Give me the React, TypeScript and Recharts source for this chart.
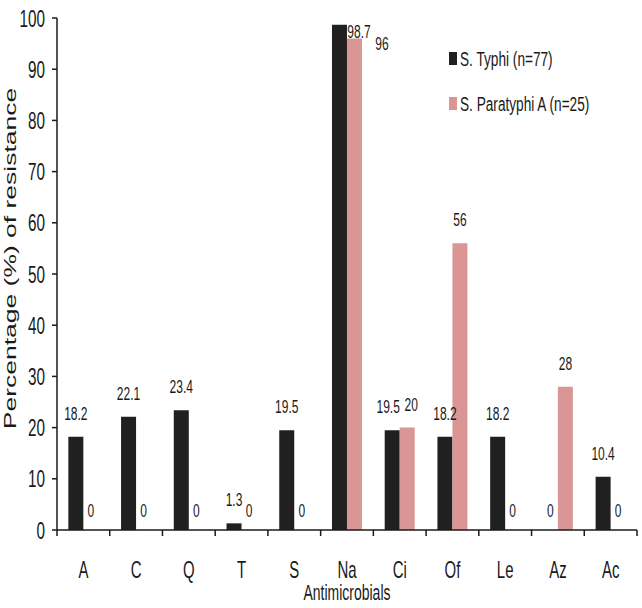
import React from 'react';
import { BarChart, Bar, XAxis, YAxis, LabelList, Legend } from 'recharts';

const categories = ['A', 'C', 'Q', 'T', 'S', 'Na', 'Ci', 'Of', 'Le', 'Az', 'Ac'];
const typhiValues = [18.2, 22.1, 23.4, 1.3, 19.5, 98.7, 19.5, 18.2, 18.2, 0, 10.4];
const paratyphiValues = [0, 0, 0, 0, 0, 96, 20, 56, 0, 28, 0];
const yTicks = [0, 10, 20, 30, 40, 50, 60, 70, 80, 90, 100];
const seriesNames = ['S. Typhi (n=77)', 'S. Paratyphi A (n=25)'];
const yTitle = 'Percentage (%) of resistance';
const xTitle = 'Antimicrobials';

const data = categories.map((c, i) => ({
  name: c,
  typhi: typhiValues[i],
  paratyphi: paratyphiValues[i],
}));

const FONT = "'Liberation Sans', Arial, sans-serif";
const SX = 0.65;
const INK = '#1a1a1a';
const BLACK = '#202020';
const PINK = '#d99694';
const seriesColors = [BLACK, PINK];

function SText(props: any) {
  const { x, y, size, anchor = 'middle', children } = props;
  return (
    <text
      transform={`translate(${x},${y}) scale(${SX},1)`}
      textAnchor={anchor}
      fontSize={size}
      fontFamily={FONT}
      fill={INK}
    >
      {children}
    </text>
  );
}

const XTick = (props: any) => {
  const { x, y, payload, index } = props;
  const half = payload && typeof payload.offset === 'number' && payload.offset > 0 ? payload.offset : 26.36;
  return (
    <g>
      {index === 0 && (
        <line x1={x - half} x2={x - half} y1={y} y2={y + 6} stroke={INK} strokeWidth={1.5} />
      )}
      <line x1={x + half} x2={x + half} y1={y} y2={y + 6} stroke={INK} strokeWidth={1.5} />
      <SText x={x} y={y + 48} size={23}>
        {payload.value}
      </SText>
    </g>
  );
};

const YTick = (props: any) => {
  const { x, y, payload } = props;
  return (
    <SText x={x} y={y + 8.5} size={23.5} anchor="end">
      {payload.value}
    </SText>
  );
};

const LABEL_SIZE = 18.5;

// label drawn from a bar's geometry; zero-valued partner labels drawn alongside
const makeLabel = (series: 'typhi' | 'paratyphi') => (props: any) => {
  const x = Number(props.x);
  const y = Number(props.y);
  const h = Number(props.height) || 0;
  const w = Number(props.width);
  const row = data.find((d) => d.name === props.value);
  if (!row || !isFinite(x) || !isFinite(w)) return null;
  const base = y + h;
  const out: any[] = [];
  const own = row[series];
  const other = series === 'typhi' ? row.paratyphi : row.typhi;
  if (own !== 0) {
    let cx = x + w / 2;
    let by = y - 17;
    if (other !== 0 && Math.abs(own - other) < 5 && own < 90) {
      cx += series === 'typhi' ? -4 : 4;
    }
    if (own > 90) {
      if (series === 'typhi') {
        cx = x + w * 1.8;
        by = y + 13;
      } else {
        cx = x + w + 20;
        by = y + 12;
      }
    }
    out.push(
      <SText key="own" x={cx} y={by} size={LABEL_SIZE}>
        {String(own)}
      </SText>
    );
    if (other === 0) {
      const ox = series === 'typhi' ? x + w * 1.5 : x - w / 2;
      out.push(
        <SText key="other" x={ox} y={base - 13} size={LABEL_SIZE}>
          {String(other)}
        </SText>
      );
    }
  }
  return <g>{out}</g>;
};

const renderLegend = () => {
  return (
    <svg width={200} height={90} style={{ overflow: 'visible' }}>
      {seriesNames.map((name, i) => (
        <g key={i}>
          <rect x={9} y={12 + i * 45} width={8} height={13} fill={seriesColors[i]} />
          <SText x={20} y={26 + i * 45} size={21} anchor="start">
            {name}
          </SText>
        </g>
      ))}
    </svg>
  );
};

const YTitle = (props: any) => {
  const vb = props.viewBox || { x: 0, y: 18, width: 57, height: 512 };
  const cx = vb.x + 15.5;
  const cy = vb.y + vb.height / 2 - 15.5;
  return (
    <text
      transform={`translate(${cx},${cy}) scale(${SX},1) rotate(-90)`}
      textAnchor="middle"
      fontSize={26.5}
      fontFamily={FONT}
      fill={INK}
    >
      {yTitle}
    </text>
  );
};

const XTitle = (props: any) => {
  const vb = props.viewBox || { x: 57, y: 530, width: 580, height: 78 };
  return (
    <SText x={vb.x + vb.width / 2} y={vb.y + 70} size={21.5}>
      {xTitle}
    </SText>
  );
};

export default function App() {
  return (
    <div style={{ position: 'absolute', left: 0, top: 0, width: 642, height: 608, background: '#fff' }}>
      <BarChart
        width={642}
        height={608}
        data={data}
        margin={{ top: 18, right: 5, left: 0, bottom: 0 }}
        barCategoryGap="21.5%"
        barGap={0}
      >
        <XAxis
          dataKey="name"
          height={78}
          tickLine={false}
          tickSize={0}
          tickMargin={0}
          axisLine={{ stroke: INK, strokeWidth: 1.5 }}
          tick={<XTick />}
          interval={0}
          label={{ content: <XTitle /> } as any}
        />
        <YAxis
          width={57}
          domain={[0, 100]}
          ticks={yTicks}
          interval={0}
          tickSize={5}
          tickMargin={7}
          tickLine={{ stroke: INK, strokeWidth: 1.5 }}
          axisLine={{ stroke: INK, strokeWidth: 1.5 }}
          tick={<YTick />}
          label={{ content: <YTitle /> } as any}
        />
        <Legend
          layout="vertical"
          align="center"
          verticalAlign="middle"
          content={renderLegend}
          wrapperStyle={{ position: 'absolute', left: 440, top: 40, width: 200, height: 90 }}
        />
        <Bar dataKey="typhi" name={seriesNames[0]} fill={BLACK} isAnimationActive={false}>
          <LabelList dataKey="name" content={makeLabel('typhi')} />
        </Bar>
        <Bar dataKey="paratyphi" name={seriesNames[1]} fill={PINK} isAnimationActive={false}>
          <LabelList dataKey="name" content={makeLabel('paratyphi')} />
        </Bar>
      </BarChart>
    </div>
  );
}
